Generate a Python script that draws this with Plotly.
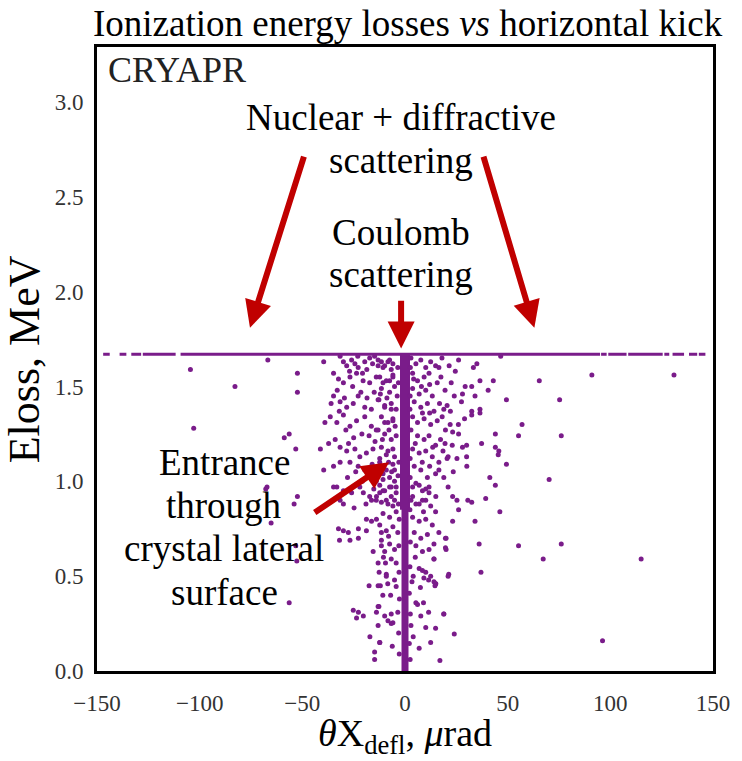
import plotly.graph_objects as go

# ---------------- data ----------------
# horizontal band of points at Eloss ~ 1.67 MeV (segments separated by None)
hline_x = [-147, -143.8, None, -139, -135.7, None, -133.3, -128.5, None, -127.7, -111.7, None,
           -109.3, 95, None, 95.5, 98.2, None, 99, 107.9, None, 108.7, 125.5, None,
           126.3, 128.7, None, 130.3, 135.9, None, 138.3, 142.3, None, 143.1, 146.3]
hline_y = [1.67 if v is not None else None for v in hline_x]

# dense central column (channeled / small-kick particles)
col_x = [0.0, 0.0]
col_y = [0.0, 1.67]
col_top_x = [0.0, 0.0]
col_top_y = [0.85, 1.67]

# cloud left of the column
cloud_left = [
    (-31.6, 1.66), (-30.0, 1.63), (-28.4, 1.61), (-26.0, 1.64), (-24.4, 1.62), (-22.8, 1.60),
    (-20.7, 1.57), (-19.6, 1.63), (-17.2, 1.65), (-14.8, 1.66), (-13.1, 1.61), (-11.5, 1.63),
    (-9.9, 1.61), (-7.5, 1.64), (-5.9, 1.62),
    (-34.8, 1.57), (-32.4, 1.54), (-30.0, 1.52), (-26.8, 1.55), (-23.6, 1.57), (-20.4, 1.53),
    (-17.2, 1.52), (-14.0, 1.55), (-10.7, 1.52), (-7.5, 1.53), (-5.9, 1.55),
    (-34.8, 1.45), (-31.6, 1.42), (-28.4, 1.39), (-25.2, 1.41), (-22.8, 1.45), (-19.6, 1.39),
    (-16.4, 1.38), (-13.1, 1.43), (-9.9, 1.40), (-6.7, 1.38),
    (-36.4, 1.34), (-33.2, 1.31), (-30.0, 1.35), (-26.8, 1.29), (-23.6, 1.32), (-19.6, 1.34),
    (-16.4, 1.29), (-14.0, 1.27), (-9.9, 1.31), (-5.9, 1.32),
    (-37.2, 1.20), (-34.0, 1.22), (-31.6, 1.18), (-28.4, 1.16), (-24.4, 1.17), (-22.0, 1.13),
    (-18.8, 1.15), (-15.6, 1.17), (-12.3, 1.12), (-9.1, 1.14), (-5.9, 1.17),
    (-34.8, 1.08), (-31.6, 1.10), (-26.8, 1.10), (-22.8, 1.08), (-19.6, 1.06), (-18.0, 1.03),
    (-14.0, 1.00), (-10.7, 1.04), (-7.5, 1.02), (-5.1, 1.06),
    (-34.8, 0.97), (-30.0, 0.95), (-26.0, 0.94), (-22.0, 0.97), (-17.2, 0.92), (-14.0, 0.90),
    (-10.7, 0.95), (-6.7, 0.92), (-4.3, 0.97),
    (-13.1, 1.64), (-10.7, 1.60), (-8.3, 1.63), (-6.7, 1.59), (-12.3, 1.55), (-9.1, 1.53),
    (-5.9, 1.56), (-11.5, 1.49), (-7.5, 1.47), (-5.1, 1.50), (-12.7, 1.43), (-9.9, 1.39),
    (-6.7, 1.41), (-4.3, 1.38), (-11.5, 1.34), (-8.3, 1.31), (-5.9, 1.33), (-13.1, 1.27),
    (-9.9, 1.25), (-6.7, 1.22), (-4.3, 1.24), (-11.5, 1.18), (-8.3, 1.16), (-5.1, 1.13),
    (-12.3, 1.10), (-9.1, 1.06), (-5.9, 1.09), (-10.7, 1.01), (-7.5, 0.97), (-5.1, 1.00),
    (-12.3, 0.94), (-9.1, 0.90), (-5.9, 0.87),
    (-12.3, 0.98), (-9.9, 0.95), (-6.7, 0.97), (-4.3, 0.94), (-11.5, 0.89), (-8.3, 0.88),
    (-5.1, 0.90), (-10.7, 0.83), (-7.5, 0.81), (-4.3, 0.84), (-12.3, 0.77), (-9.1, 0.74),
    (-5.9, 0.76), (-3.5, 0.73), (-11.5, 0.69), (-7.5, 0.67), (-5.1, 0.64), (-9.9, 0.63),
    (-6.7, 0.59), (-4.3, 0.57), (-13.1, 0.57), (-9.1, 0.51), (-5.1, 0.48), (-12.0, 0.45),
    (-6.2, 0.13), (-12.3, 0.15), (-13.1, 0.24), (-9.9, 0.29), (-6.7, 0.30), (-8.3, 0.265),
    (-5.9, 0.255), (-12.7, 0.34), (-3.5, 0.31), (-4.3, 0.445),
    (-27.0, 1.58), (-25.5, 1.50), (-21.5, 1.47), (-18.5, 1.44), (-15.0, 1.47), (-12.0, 1.46),
    (-8.8, 1.44), (-3.8, 1.45), (-3.5, 1.60), (-3.2, 1.52), (-4.8, 1.29), (-7.8, 1.27),
    (-11.0, 1.22), (-14.6, 1.21), (-17.5, 1.24), (-21.0, 1.25), (-25.0, 1.23), (-28.8, 1.27),
    (-27.5, 1.20), (-24.0, 1.05), (-20.8, 1.00), (-16.0, 1.09), (-12.8, 1.05), (-8.0, 1.10),
    (-3.0, 1.10), (-3.4, 1.03), (-6.5, 1.05), (-15.2, 0.96), (-19.0, 0.88), (-24.8, 0.86),
    (-28.0, 1.02), (-3.2, 0.88), (-2.8, 0.80), (-3.0, 0.66), (-2.9, 0.52), (-8.0, 0.71),
    (-10.5, 0.60), (-2.7, 0.38), (-3.1, 0.20), (-2.8, 0.09), (-7.0, 0.40), (-10.8, 0.40),
    (-8.4, 0.46), (-15.8, 1.62), (-18.6, 1.59), (-23.0, 1.66), (-29.5, 1.44), (-33.0, 1.48),
    (-32.0, 1.37), (-36.0, 1.41), (-39.0, 1.31),
]

# cloud right of the column
cloud_right = [
    (2.9, 1.65), (5.3, 1.62), (7.7, 1.64), (10.1, 1.60), (12.5, 1.63), (14.9, 1.61),
    (3.7, 1.57), (6.1, 1.53), (9.3, 1.55), (11.7, 1.57), (15.7, 1.52), (3.7, 1.49),
    (6.9, 1.46), (10.1, 1.48), (13.3, 1.45), (4.5, 1.42), (7.7, 1.39), (10.9, 1.41),
    (14.1, 1.37), (3.7, 1.34), (6.1, 1.31), (9.3, 1.33), (12.5, 1.30), (15.7, 1.32),
    (2.9, 1.27), (6.1, 1.24), (9.3, 1.22), (11.7, 1.24), (14.9, 1.19), (3.7, 1.17),
    (6.9, 1.15), (10.1, 1.16), (13.3, 1.13), (16.5, 1.10), (4.5, 1.08), (7.7, 1.06),
    (10.9, 1.02), (5.3, 0.99), (8.5, 0.95), (11.7, 0.97), (3.7, 0.92), (6.9, 0.88),
    (10.1, 0.90), (16.5, 1.60), (18.1, 1.34), (19.7, 1.27), (17.3, 1.22), (20.5, 1.12),
    (16.5, 1.06), (14.9, 1.04), (18.9, 1.02), (18.9, 1.38), (20.5, 1.40), (22.1, 1.37),
    (3.7, 0.97), (6.9, 0.98), (10.1, 0.96), (11.7, 0.94), (2.9, 0.90), (5.3, 0.88),
    (8.5, 0.90), (12.5, 0.87), (14.9, 0.84), (3.7, 0.81), (6.9, 0.79), (10.1, 0.80),
    (13.3, 0.77), (16.5, 0.73), (4.5, 0.73), (7.7, 0.70), (10.9, 0.72), (14.1, 0.67),
    (19.7, 0.70), (5.3, 0.66), (8.5, 0.63), (11.7, 0.64), (14.1, 0.59), (19.7, 0.65),
    (6.9, 0.54), (10.1, 0.52), (12.5, 0.50), (14.9, 0.46), (21.3, 0.51), (6.1, 0.35),
    (7.7, 0.29), (10.1, 0.23), (2.9, 0.24), (12.5, 0.15), (6.9, 0.12), (18.9, 0.30),
    (14.9, 0.225), (24.0, 0.195), (17.0, 0.055), (2.1, 0.41), (3.4, 0.47), (2.1, 0.145),
    (8.5, 0.53), (9.2, 0.49), (11.5, 0.48), (15.0, 0.46), (5.3, 0.36),
    (2.6, 1.60), (4.2, 1.54), (2.5, 1.45), (8.0, 1.50), (12.0, 1.51), (17.5, 1.55),
    (19.5, 1.48), (22.5, 1.52), (24.0, 1.45), (8.5, 1.36), (12.0, 1.36), (16.8, 1.41),
    (2.4, 1.38), (5.0, 1.20), (2.5, 1.12), (8.4, 1.10), (12.0, 1.08), (13.5, 1.18),
    (18.5, 1.16), (23.5, 1.05), (21.0, 0.97), (15.0, 0.92), (2.5, 1.02), (2.4, 0.85),
    (9.0, 0.84), (5.0, 0.60), (2.6, 0.68), (2.4, 0.55), (4.0, 0.50), (7.5, 0.44),
    (2.6, 0.30), (4.0, 0.18), (2.5, 0.06), (9.0, 0.36), (11.5, 0.31), (18.0, 1.65),
    (21.5, 1.61), (24.5, 1.58), (27.5, 1.42), (26.0, 1.30), (22.0, 1.30), (19.5, 1.20),
]

# sparse halo (large kicks)
halo = [
    (-104.5, 1.59), (-66.8, 1.64), (-52.4, 1.57), (-82.8, 1.50), (-52.4, 1.47), (-102.9, 1.28),
    (-58.8, 1.23), (-56.4, 1.25), (-53.2, 1.17), (-41.2, 1.17), (-39.6, 1.06), (-67.8, 0.96),
    (-52.4, 0.92), (-39.6, 1.63),
    (-67.2, 0.97), (-54.0, 0.88), (-65.2, 0.78), (-53.2, 0.66), (-52.7, 0.58), (-56.4, 0.36),
    (-33.2, 0.97), (-31.6, 0.90), (-30.0, 0.88), (-32.4, 0.75), (-30.0, 0.74), (-31.9, 0.69),
    (-27.6, 0.73), (-26.8, 0.69), (-22.7, 0.70), (-18.8, 0.80), (-16.3, 0.79), (-13.9, 0.80),
    (-22.7, 0.75), (-18.8, 0.74), (-20.3, 0.94), (-16.3, 0.90), (-13.9, 0.92), (-26.8, 0.95),
    (-15.5, 0.63), (-11.5, 0.73), (-11.5, 0.66), (-17.5, 0.45), (-12.6, 0.52), (-13.1, 0.45),
    (-9.5, 0.57), (-9.1, 0.50), (-25.2, 0.32), (-22.7, 0.31), (-20.3, 0.29), (-23.6, 0.28),
    (-13.1, 0.34), (-13.9, 0.31), (-17.1, 0.18), (-14.8, 0.10), (-14.8, 0.06), (-12.3, 0.15),
    (-6.7, 0.25),
    (46.6, 1.66), (26.1, 1.64), (33.3, 1.60), (35.0, 1.62), (91.0, 1.56), (131.0, 1.56),
    (65.4, 1.53), (43.0, 1.53), (36.5, 1.53), (29.3, 1.50), (32.5, 1.50), (40.5, 1.48),
    (28.0, 1.46), (34.1, 1.45), (49.4, 1.43), (75.3, 1.43), (32.5, 1.37), (36.5, 1.38),
    (32.5, 1.35), (36.5, 1.36), (29.0, 1.33), (57.0, 1.30), (23.2, 1.26), (26.1, 1.25),
    (44.0, 1.25), (55.3, 1.24), (76.1, 1.24), (37.3, 1.20), (23.0, 1.19), (28.0, 1.18),
    (30.0, 1.19), (44.0, 1.18), (45.7, 1.16), (45.4, 1.14), (21.0, 1.13), (25.3, 1.12),
    (30.0, 1.13), (49.4, 1.09), (30.1, 1.08), (41.3, 1.02), (70.2, 1.01), (44.0, 0.98),
    (23.2, 0.92), (25.3, 0.90), (30.6, 0.90), (32.5, 0.89), (39.3, 0.91), (46.2, 0.84),
    (23.2, 0.79), (34.1, 0.79), (26.1, 0.85), (36.1, 0.67), (55.3, 0.66), (76.1, 0.67),
    (20.0, 0.70), (20.0, 0.64), (67.3, 0.59), (115.0, 0.59), (14.1, 0.59), (37.0, 0.52),
    (21.0, 0.50), (14.1, 0.47), (14.6, 0.45), (18.9, 0.30), (96.2, 0.16),
]

x_ticks = [-150, -100, -50, 0, 50, 100, 150]
y_ticks = [0.0, 0.5, 1.0, 1.5, 2.0, 2.5, 3.0]

# annotation texts (line by line) and their anchor points in data units
label_lines = ["Nuclear + diffractive", "scattering", "Coulomb", "scattering",
               "Entrance", "through", "crystal lateral", "surface"]
label_x = [-1.9, -1.9, -1.9, -1.9, -88.0, -88.0, -88.0, -88.0]
label_y = [2.92, 2.69, 2.31, 2.09, 1.10, 0.875, 0.648, 0.416]

# arrows: tail (ax, ay) -> tip (x, y)
arrow_tail_x = [-49.0, 38.0, -1.9, -44.7]
arrow_tail_y = [2.72, 2.72, 1.96, 0.83]
arrow_tip_x = [-75.5, 63.0, -1.9, -7.7]
arrow_tip_y = [1.81, 1.81, 1.70, 1.10]

# ---------------- figure ----------------
PURPLE = "#7a1c8a"
RED = "#c00000"
SERIF = "Liberation Serif, Times New Roman, serif"

fig = go.Figure()

fig.add_trace(go.Scatter(x=hline_x, y=hline_y, mode="lines",
                         line=dict(color=PURPLE, width=3), hoverinfo="skip", showlegend=False))
fig.add_trace(go.Scatter(x=col_x, y=col_y, mode="lines",
                         line=dict(color=PURPLE, width=7), hoverinfo="skip", showlegend=False))
fig.add_trace(go.Scatter(x=col_top_x, y=col_top_y, mode="lines",
                         line=dict(color=PURPLE, width=10), hoverinfo="skip", showlegend=False))

for pts in (cloud_left, cloud_right, halo):
    fig.add_trace(go.Scatter(x=[p[0] for p in pts], y=[p[1] for p in pts], mode="markers",
                             marker=dict(color=PURPLE, size=5, line=dict(width=0)),
                             showlegend=False))

annotations = []
for t, lx, ly in zip(label_lines, label_x, label_y):
    annotations.append(dict(x=lx, y=ly, xref="x", yref="y", text=t, showarrow=False,
                            font=dict(family=SERIF, size=37, color="black"),
                            xanchor="center", yanchor="middle"))

for tx, ty, hx, hy in zip(arrow_tail_x, arrow_tail_y, arrow_tip_x, arrow_tip_y):
    annotations.append(dict(x=hx, y=hy, ax=tx, ay=ty, xref="x", yref="y", axref="x", ayref="y",
                            text="", showarrow=True, arrowhead=2, arrowsize=0.9,
                            arrowwidth=6, arrowcolor=RED, standoff=0))

annotations.append(dict(x=0.505, y=1.037, xref="paper", yref="paper",
                        text="Ionization energy losses <i>vs</i> horizontal kick",
                        showarrow=False, font=dict(family=SERIF, size=37, color="black"),
                        xanchor="center", yanchor="middle"))
annotations.append(dict(x=0.014, y=0.963, xref="paper", yref="paper", text="CRYAPR",
                        showarrow=False, font=dict(family=SERIF, size=36, color="#222"),
                        xanchor="left", yanchor="middle"))
annotations.append(dict(x=-0.118, y=0.5, xref="paper", yref="paper", text="Eloss, MeV",
                        textangle=-90, showarrow=False,
                        font=dict(family=SERIF, size=44, color="black"),
                        xanchor="center", yanchor="middle"))
annotations.append(dict(x=0.5, y=-0.104, xref="paper", yref="paper",
                        text="<i>θ</i>X<sub>defl</sub>, <i>μ</i>rad",
                        showarrow=False, font=dict(family=SERIF, size=38, color="black"),
                        xanchor="center", yanchor="middle"))

axis_common = dict(showline=True, mirror=True, linecolor="black", linewidth=3,
                   ticks="", showgrid=False, zeroline=False,
                   tickfont=dict(family=SERIF, size=23, color="#333"))

fig.update_layout(
    width=742, height=761,
    margin=dict(l=97, r=21, t=47, b=90),
    paper_bgcolor="white", plot_bgcolor="white",
    xaxis=dict(range=[-150, 150], tickvals=x_ticks, ticklabelstandoff=9, **axis_common),
    yaxis=dict(range=[0, 3.29], tickvals=y_ticks, tickformat=".1f", ticklabelstandoff=6,
               **axis_common),
    annotations=annotations,
    showlegend=False,
)

fig.write_html("out.html")
